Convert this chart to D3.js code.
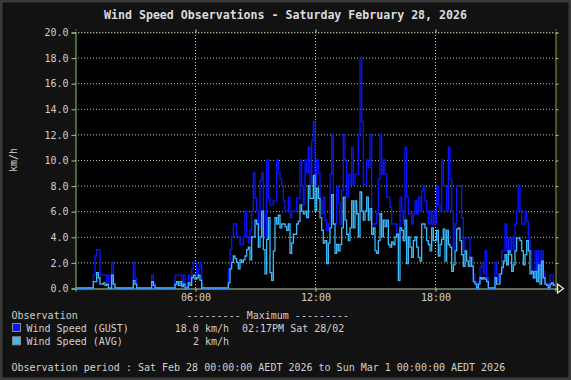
<!DOCTYPE html>
<html>
<head>
<meta charset="utf-8">
<script src="https://cdn.jsdelivr.net/npm/d3@7"></script>
<style>
html,body{margin:0;padding:0;background:#121212;}
svg{display:block;}
text{font-family:"DejaVu Sans Mono",monospace;}
</style>
</head>
<body>
<svg id="chart" width="571" height="380"></svg>
<script>
// ---- DATA (5-minute observations, km/h) ----
const titleText = "Wind Speed Observations - Saturday February 28, 2026";
const yLabel = "km/h";
const xTickHours = [6, 12, 18];
const xTickLabels = ["06:00", "12:00", "18:00"];
const yTicks = [0, 2, 4, 6, 8, 10, 12, 14, 16, 18, 20];
const seriesNames = ["Wind Speed (GUST)", "Wind Speed (AVG)"];
const seriesColors = ["#0a14ff", "#3cb8f8"];
const maxValues = ["18.0 km/h", "2 km/h"];
const maxTimes = ["02:17PM Sat 28/02", ""];
const periodText = "Observation period : Sat Feb 28 00:00:00 AEDT 2026 to Sun Mar 1 00:00:00 AEDT 2026";

const gust = [
  0,0,0,0,0,0,0,0,0,0,0,1.0,
  2.5,3.0,3.0,1.0,1.0,1.0,1.0,0.5,1.0,0.3,2.0,0.3,
  0,0,0,0,0,0,0,0,0,0,0,2.0,
  0.8,0,0,0,0,0,0,0,0,0,1.0,0.4,
  0,0,0,0,0,0,0,0,0,0,0,0,
  1.0,1.0,1.0,1.0,0.3,1.0,0.2,0,1.0,0.5,1.5,2.0,
  2.0,1.0,1.5,2.0,0.3,0,0,0,0,0,0,0,
  0,0,0,0,0,0,0,0,1.5,3.0,4.0,5.0,
  5.0,4.0,4.0,3.4,3.4,4.0,6.0,4.0,3.5,4.5,6.0,9.0,
  7.0,6.0,4.6,8.4,9.0,6.0,4.0,10.0,7.0,6.5,6.5,6.8,
  6.8,10.0,9.0,8.5,8.0,6.8,6.0,6.0,7.1,5.5,6.0,6.0,
  6.0,7.0,7.0,10.0,8.0,6.5,10.0,9.0,11.0,8.0,11.5,13.0,
  8.0,10.0,9.0,6.8,5.8,7.1,5.3,4.5,5.0,8.9,12.0,5.0,
  5.0,7.9,6.6,5.0,7.6,12.0,10.0,7.1,8.9,8.1,11.0,8.0,
  8.9,8.9,12.0,18.0,13.0,8.1,8.1,10.0,9.4,12.0,5.0,5.0,
  5.0,5.8,8.5,12.0,8.9,10.0,8.9,7.1,7.1,6.3,5.0,5.0,
  5.0,4.2,3.7,7.1,6.0,5.0,11.0,7.1,5.8,5.8,5.0,5.8,
  6.8,5.8,7.1,6.0,7.6,8.0,6.8,6.0,5.0,6.0,5.0,6.0,
  5.0,8.0,6.5,6.0,10.0,8.0,8.0,6.0,11.0,8.5,6.0,3.0,
  5.0,8.0,8.0,8.0,5.5,2.9,3.9,3.9,3.9,2.4,2.4,1.1,
  0.4,0,0.5,1.6,1.9,1.1,2.9,0.8,0,0,0,0,
  2.0,1.1,0.5,1.1,2.9,2.9,5.0,2.9,3.9,2.9,3.9,3.0,
  5.0,6.0,8.0,6.0,5.0,5.0,6.0,5.2,3.9,2.9,1.3,0.8,
  2.9,1.3,2.9,0.8,2.9,1.3,0.3,0.3,0,1.0,1.0,0.3
];
const avg = [
  0,0,0,0,0,0,0,0,0,0,0,0.5,
  0.5,1.2,0.8,0.3,0.3,0.4,0.2,0.3,0,0,1.0,0.3,
  0,0,0,0,0,0,0,0,0,0,0,0.6,
  0.3,0,0,0,0,0,0,0,0,0,0.5,0.2,
  0,0,0,0,0,0,0,0,0,0,0,0,
  0.3,0.5,0.2,0.5,0.1,0.3,0,0,0.4,0.2,0.8,1.0,
  0.7,0.8,1.0,0.6,0,0,0,0,0,0,0,0,
  0,0,0,0,0,0,0,0,0.4,1.5,2.0,2.5,
  2.3,2.0,1.5,2.2,2.0,2.2,2.5,3.0,3.2,2.2,4.0,4.0,
  5.3,5.0,3.2,4.0,6.0,3.0,1.1,3.8,5.5,1.2,0.6,2.9,
  5.5,5.0,5.7,4.7,5.0,5.0,4.8,4.5,5.0,2.7,3.5,4.2,
  4.2,5.0,5.2,6.5,6.0,5.8,6.0,5.5,8.0,7.0,7.0,8.8,
  6.0,7.8,7.0,5.5,4.5,3.5,3.7,1.9,3.5,4.7,7.3,5.0,
  2.7,3.4,2.9,3.4,4.7,7.1,5.3,4.2,3.7,4.7,6.8,4.7,
  6.8,5.8,4.0,7.5,6.0,5.3,6.0,7.1,5.3,6.2,4.2,4.7,
  2.9,2.7,3.7,5.8,4.0,5.3,4.8,5.3,3.4,3.2,3.6,3.4,
  4.0,4.2,0.6,4.7,4.5,3.7,5.3,1.9,4.0,3.2,2.4,3.7,
  4.0,3.2,2.4,2.1,5.0,5.0,4.7,3.7,3.4,2.9,4.7,3.7,
  3.7,4.5,2.5,3.4,3.8,4.6,2.1,4.5,3.4,3.2,1.3,1.8,
  2.9,4.6,4.7,3.7,2.6,1.7,2.9,2.1,1.7,2.4,1.7,0.5,
  0.3,0,0.3,0.8,0.7,0.8,0.7,0.5,0,0,0,0,
  0.8,0.3,0.3,1.1,1.6,2.1,2.6,1.8,2.9,2.6,1.3,1.8,
  2.9,3.9,3.9,3.7,2.9,1.8,2.6,3.7,2.9,1.1,1.3,0.8,
  1.3,0.5,1.8,0.3,2.1,0.8,0.3,0.2,0,0.3,0.4,0.2
];

// ---- DRAWING ----
const W = 571, H = 380;
const L = 75, R = 555, T = 32, B = 288;
const svg = d3.select("#chart");
const FONT = "DejaVu Sans Mono";

svg.append("rect").attr("x", 0).attr("y", 0).attr("width", W).attr("height", H).attr("fill", "#121212");
svg.append("rect").attr("x", 1.25).attr("y", 1.25).attr("width", W - 2.5).attr("height", H - 2.5)
  .attr("fill", "none").attr("stroke", "#3a3a3a").attr("stroke-width", 2.5);

// plot background
svg.append("rect").attr("x", L).attr("y", T).attr("width", R - L).attr("height", B - T).attr("fill", "#000");

const x = d3.scaleLinear().domain([0, 24 * 60]).range([L, R]);
const y = d3.scaleLinear().domain([0, 20]).range([B, T]);

// horizontal grid
const gridCol = "#a8cc98";
svg.append("g").selectAll("line").data(yTicks.filter(v => v > 0)).join("line")
  .attr("x1", L).attr("x2", R).attr("y1", d => y(d) + 0.5).attr("y2", d => y(d) + 0.5)
  .attr("stroke", gridCol).attr("stroke-width", 1).attr("stroke-dasharray", "1,2");
// vertical grid
svg.append("g").selectAll("line").data(xTickHours).join("line")
  .attr("x1", d => Math.round(x(d * 60)) + 0.5).attr("x2", d => Math.round(x(d * 60)) + 0.5)
  .attr("y1", T).attr("y2", B)
  .attr("stroke", "#c8d8c0").attr("stroke-width", 1).attr("stroke-dasharray", "1,2");

// axes via d3
const yAxisL = d3.axisLeft(y).tickValues(yTicks).tickSize(4).tickFormat(d3.format(".1f"));
const gL = svg.append("g").attr("transform", `translate(${L + 0.5},0.5)`).call(yAxisL);
gL.select(".domain").attr("stroke", "#9ccc70");
gL.selectAll(".tick line").attr("stroke", "#9ccc70");
gL.selectAll(".tick text").attr("fill", "#d0d0d0").attr("font-family", FONT).attr("font-size", 10)
  .attr("x", -7);

const yAxisR = d3.axisRight(y).tickValues(yTicks).tickSize(3).tickFormat("");
const gR = svg.append("g").attr("transform", `translate(${R + 0.5},0.5)`).call(yAxisR);
gR.select(".domain").attr("stroke", "#8f8f30");
gR.selectAll(".tick line").attr("stroke", "#9ccc80");

const xAxisB = d3.axisBottom(x).tickValues(xTickHours.map(h => h * 60)).tickSize(3)
  .tickFormat((d, i) => xTickLabels[i]);
const gB = svg.append("g").attr("transform", `translate(0.5,${B + 0.5})`).call(xAxisB);
gB.select(".domain").attr("stroke", "#a8c8a0");
gB.selectAll(".tick line").attr("stroke", "#c8d8c0");
gB.selectAll(".tick text").attr("fill", "#d0d0d0").attr("font-family", FONT).attr("font-size", 10).attr("y", 5);

const xAxisT = d3.axisTop(x).tickValues(xTickHours.map(h => h * 60)).tickSize(3).tickFormat("");
const gT = svg.append("g").attr("transform", `translate(0.5,${T + 0.5})`).call(xAxisT);
gT.select(".domain").attr("stroke", gridCol).attr("stroke-dasharray", "1,2");
gT.selectAll(".tick line").attr("stroke", "#c8d8c0");

// data lines
function seriesPoints(arr) {
  const pts = arr.map((v, i) => [i * 5, v]);
  pts.push([24 * 60, arr[arr.length - 1]]);
  return pts;
}
const line = d3.line().x(d => x(d[0])).y(d => y(d[1])).curve(d3.curveStepAfter);
[gust, avg].forEach((arr, k) => {
  svg.append("path").datum(seriesPoints(arr))
    .attr("d", line).attr("fill", "none")
    .attr("stroke", seriesColors[k]).attr("stroke-width", 1.3)
    .attr("stroke-linejoin", "miter");
});

// arrow at end of x axis
svg.append("path").attr("d", `M${R + 2.5},${B - 4} L${R + 8.5},${B + 0.5} L${R + 2.5},${B + 5} Z`)
  .attr("fill", "none").attr("stroke", "#f0f0f0").attr("stroke-width", 1.2);

// title
svg.append("text").attr("x", W / 2).attr("y", 15).attr("text-anchor", "middle")
  .attr("dominant-baseline", "central").attr("font-family", FONT).attr("font-size", 11.6)
  .attr("font-weight", "bold").attr("fill", "#dcdcdc").text(titleText);

// y label
svg.append("text").attr("transform", `translate(13,${(T + B) / 2}) rotate(-90)`)
  .attr("text-anchor", "middle").attr("dominant-baseline", "central")
  .attr("font-family", FONT).attr("font-size", 10).attr("fill", "#d0d0d0").text(yLabel);

// legend
const lg = svg.append("g").attr("font-family", FONT).attr("font-size", 10).attr("fill", "#d0d0d0");
lg.append("text").attr("x", 11.5).attr("y", 315).attr("dominant-baseline", "central").text("Observation");
lg.append("text").attr("x", 186.5).attr("y", 315).attr("dominant-baseline", "central")
  .text("--------- Maximum ---------");
seriesNames.forEach((name, k) => {
  const cy = 328 + k * 13.3;
  lg.append("rect").attr("x", 12.5).attr("y", cy - 4.5).attr("width", 8).attr("height", 8)
    .attr("fill", seriesColors[k]).attr("stroke", "#8a8a8a").attr("stroke-width", 1);
  lg.append("text").attr("x", 26.5).attr("y", cy).attr("dominant-baseline", "central").text(name);
  lg.append("text").attr("x", 229).attr("y", cy).attr("text-anchor", "end")
    .attr("dominant-baseline", "central").text(maxValues[k]);
  if (maxTimes[k]) lg.append("text").attr("x", 242).attr("y", cy).attr("dominant-baseline", "central").text(maxTimes[k]);
});
lg.append("text").attr("x", 11.5).attr("y", 367).attr("dominant-baseline", "central").text(periodText);
</script>
</body>
</html>
